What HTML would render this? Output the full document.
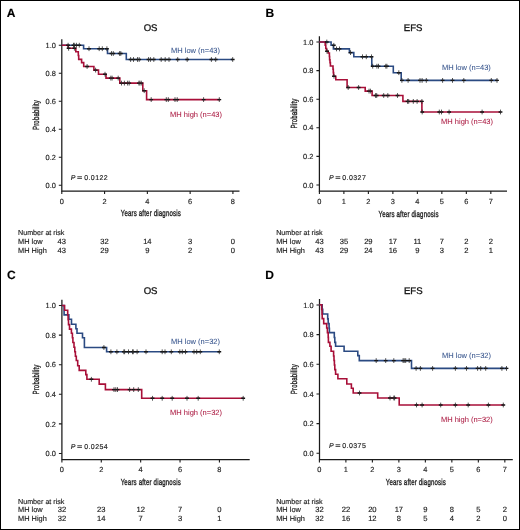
<!DOCTYPE html>
<html><head><meta charset="utf-8"><style>
html,body{margin:0;padding:0;background:#fff;}
body{width:520px;height:530px;overflow:hidden;}
svg{display:block;will-change:transform;}
text{font-family:"Liberation Sans", sans-serif;color:#222;fill:currentColor;text-rendering:geometricPrecision;stroke:currentColor;stroke-width:0.15px;}
</style></head><body>
<svg width="520" height="530" viewBox="0 0 520 530">
<rect x="0" y="0" width="520" height="530" fill="#fff"/>
<g>
<rect x="0.5" y="0.5" width="519" height="529" fill="none" stroke="#000" stroke-width="1"/>
<g stroke="#1a1a1a" stroke-width="1.25" fill="none">
<path d="M61.8 39.2V191H239.5"/>
<path d="M58.8 185.2H61.8M58.8 157.2H61.8M58.8 129.2H61.8M58.8 101.2H61.8M58.8 73.2H61.8M58.8 45.2H61.8M61.8 191V194M104.58 191V194M147.36 191V194M190.14 191V194M232.92 191V194" stroke-width="1.1"/>
</g>
<text x="55.8" y="187.85" font-size="7.4" text-anchor="end">0.0</text>
<text x="55.8" y="159.85" font-size="7.4" text-anchor="end">0.2</text>
<text x="55.8" y="131.85" font-size="7.4" text-anchor="end">0.4</text>
<text x="55.8" y="103.85" font-size="7.4" text-anchor="end">0.6</text>
<text x="55.8" y="75.85" font-size="7.4" text-anchor="end">0.8</text>
<text x="55.8" y="47.85" font-size="7.4" text-anchor="end">1.0</text>
<text x="61.8" y="203.8" font-size="7.4" text-anchor="middle">0</text>
<text x="104.58" y="203.8" font-size="7.4" text-anchor="middle">2</text>
<text x="147.36" y="203.8" font-size="7.4" text-anchor="middle">4</text>
<text x="190.14" y="203.8" font-size="7.4" text-anchor="middle">6</text>
<text x="232.92" y="203.8" font-size="7.4" text-anchor="middle">8</text>
<text transform="translate(150.85 216.4) scale(0.7 1)" font-size="8.7" text-anchor="middle" style="stroke-width:0.35px;letter-spacing:0.25px">Years after diagnosis</text>
<text transform="translate(39.4 115) rotate(-90) scale(0.68 1)" font-size="8.9" text-anchor="middle" style="stroke-width:0.35px;letter-spacing:0.25px">Probability</text>
<text x="150.6" y="30.9" font-size="9.6" text-anchor="middle" style="stroke-width:0.3px;color:#111">OS</text>
<text x="6.7" y="16.5" font-size="12.0" font-weight="bold" style="color:#000">A</text>
<text x="70.8" y="180.1" font-size="7.0" font-style="italic">P</text>
<text font-size="7.0" transform="translate(77.1 180.1) scale(1.3 1)">=</text>
<text x="84.2" y="180.1" font-size="7.0" style="letter-spacing:0.42px">0.0122</text>
<text x="171" y="53" font-size="7.5" style="color:#36548c;stroke-width:0.05px">MH low (n=43)</text>
<text x="170.1" y="116.8" font-size="7.5" style="color:#ab1a42;stroke-width:0.05px">MH high (n=43)</text>
<text x="18" y="235" font-size="7.15">Number at risk</text>
<text x="18" y="243.7" font-size="7.4">MH low</text>
<text x="18" y="252.6" font-size="7.4">MH High</text>
<text x="61.8" y="243.8" font-size="7.6" text-anchor="middle">43</text>
<text x="61.8" y="252.7" font-size="7.6" text-anchor="middle">43</text>
<text x="104.58" y="243.8" font-size="7.6" text-anchor="middle">32</text>
<text x="104.58" y="252.7" font-size="7.6" text-anchor="middle">29</text>
<text x="147.36" y="243.8" font-size="7.6" text-anchor="middle">14</text>
<text x="147.36" y="252.7" font-size="7.6" text-anchor="middle">9</text>
<text x="190.14" y="243.8" font-size="7.6" text-anchor="middle">3</text>
<text x="190.14" y="252.7" font-size="7.6" text-anchor="middle">2</text>
<text x="232.92" y="243.8" font-size="7.6" text-anchor="middle">0</text>
<text x="232.92" y="252.7" font-size="7.6" text-anchor="middle">0</text>
<path d="M61.8 45.2H83.6V48.7H107.5V53.5H126.3V59.5H233" fill="none" stroke="#2b4a82" stroke-width="1.6" stroke-linejoin="miter" stroke-linecap="butt"/>
<path d="M61.8 45.2H68.1V48.3H75.8V51.8H78.3V55.5H78.7V59.4H81.6V62.6H83.7V66.5H93.9V70.1H98.5V74.2H106V78.1H119.8V83.1H142.8V90.7H146.6V99.6H220.2" fill="none" stroke="#a80f38" stroke-width="1.6" stroke-linejoin="miter" stroke-linecap="butt"/>
<path d="M66.2 45.2H70M71.6 45.2H75.4M72.4 45.2H76.2M74.5 45.2H78.3M77.4 45.2H81.2M87.1 48.7H90.9M97.3 48.7H101.1M100.4 48.7H104.2M105 48.7H108.8M109.6 53.5H113.4M111.4 53.5H115.2M117.7 53.5H121.5M118.9 53.5H122.7M128.7 59.5H132.5M131.6 59.5H135.4M135.6 59.5H139.4M137.3 59.5H141.1M146.6 59.5H150.4M148.5 59.5H152.3M151.9 59.5H155.7M159.3 59.5H163.1M163.3 59.5H167.1M167.1 59.5H170.9M175.8 59.5H179.6M185.3 59.5H189.1M209.5 59.5H213.3M213.8 59.5H217.6M230.8 59.5H234.6" stroke="#111" stroke-width="1.4" fill="none"/>
<path d="M68.1 42.8V47.6M73.5 42.8V47.6M74.3 42.8V47.6M76.4 42.8V47.6M79.3 42.8V47.6M89 46.3V51.1M99.2 46.3V51.1M102.3 46.3V51.1M106.9 46.3V51.1M111.5 51.1V55.9M113.3 51.1V55.9M119.6 51.1V55.9M120.8 51.1V55.9M130.6 57.1V61.9M133.5 57.1V61.9M137.5 57.1V61.9M139.2 57.1V61.9M148.5 57.1V61.9M150.4 57.1V61.9M153.8 57.1V61.9M161.2 57.1V61.9M165.2 57.1V61.9M169 57.1V61.9M177.7 57.1V61.9M187.2 57.1V61.9M211.4 57.1V61.9M215.7 57.1V61.9M232.7 57.1V61.9" stroke="#2a2a2a" stroke-width="0.8" fill="none"/>
<path d="M66.7 48.3H70.5M72.5 48.3H76.3M85.2 66.5H89M93.7 70.1H97.5M103.1 74.2H106.9M108.9 78.1H112.7M110.2 78.1H114M116.3 78.1H120.1M119.6 83.1H123.4M122.5 83.1H126.3M125.7 83.1H129.5M127.3 83.1H131.1M137 83.1H140.8M138 83.1H141.8M139.4 83.1H143.2M142.3 90.7H146.1M149.3 99.6H153.1M164.4 99.6H168.2M166.4 99.6H170.2M173.1 99.6H176.9M175.3 99.6H179.1M201.7 99.6H205.5M217.4 99.6H221.2" stroke="#111" stroke-width="1.4" fill="none"/>
<path d="M68.6 45.9V50.7M74.4 45.9V50.7M87.1 64.1V68.9M95.6 67.7V72.5M105 71.8V76.6M110.8 75.7V80.5M112.1 75.7V80.5M118.2 75.7V80.5M121.5 80.7V85.5M124.4 80.7V85.5M127.6 80.7V85.5M129.2 80.7V85.5M138.9 80.7V85.5M139.9 80.7V85.5M141.3 80.7V85.5M144.2 88.3V93.1M151.2 97.2V102M166.3 97.2V102M168.3 97.2V102M175 97.2V102M177.2 97.2V102M203.6 97.2V102M219.3 97.2V102" stroke="#2a2a2a" stroke-width="0.8" fill="none"/>
<g stroke="#1a1a1a" stroke-width="1.25" fill="none">
<path d="M319.4 36.3V191H507"/>
<path d="M316.4 185H319.4M316.4 156.4H319.4M316.4 127.8H319.4M316.4 99.2H319.4M316.4 70.6H319.4M316.4 42H319.4M319.4 191V194M343.89 191V194M368.38 191V194M392.87 191V194M417.36 191V194M441.85 191V194M466.34 191V194M490.83 191V194" stroke-width="1.1"/>
</g>
<text x="313.4" y="187.65" font-size="7.4" text-anchor="end">0.0</text>
<text x="313.4" y="159.05" font-size="7.4" text-anchor="end">0.2</text>
<text x="313.4" y="130.45" font-size="7.4" text-anchor="end">0.4</text>
<text x="313.4" y="101.85" font-size="7.4" text-anchor="end">0.6</text>
<text x="313.4" y="73.25" font-size="7.4" text-anchor="end">0.8</text>
<text x="313.4" y="44.65" font-size="7.4" text-anchor="end">1.0</text>
<text x="319.4" y="203.8" font-size="7.4" text-anchor="middle">0</text>
<text x="343.89" y="203.8" font-size="7.4" text-anchor="middle">1</text>
<text x="368.38" y="203.8" font-size="7.4" text-anchor="middle">2</text>
<text x="392.87" y="203.8" font-size="7.4" text-anchor="middle">3</text>
<text x="417.36" y="203.8" font-size="7.4" text-anchor="middle">4</text>
<text x="441.85" y="203.8" font-size="7.4" text-anchor="middle">5</text>
<text x="466.34" y="203.8" font-size="7.4" text-anchor="middle">6</text>
<text x="490.83" y="203.8" font-size="7.4" text-anchor="middle">7</text>
<text transform="translate(408.6 216.8) scale(0.7 1)" font-size="8.7" text-anchor="middle" style="stroke-width:0.35px;letter-spacing:0.25px">Years after diagnosis</text>
<text transform="translate(297.2 113.6) rotate(-90) scale(0.68 1)" font-size="8.9" text-anchor="middle" style="stroke-width:0.35px;letter-spacing:0.25px">Probability</text>
<text x="413.2" y="30.9" font-size="9.6" text-anchor="middle" style="stroke-width:0.3px;color:#111">EFS</text>
<text x="265.4" y="16.5" font-size="12.0" font-weight="bold" style="color:#000">B</text>
<text x="328.9" y="180.1" font-size="7.0" font-style="italic">P</text>
<text font-size="7.0" transform="translate(335.2 180.1) scale(1.3 1)">=</text>
<text x="342.3" y="180.1" font-size="7.0" style="letter-spacing:0.42px">0.0327</text>
<text x="441.9" y="70.25" font-size="7.5" style="color:#36548c;stroke-width:0.05px">MH low (n=43)</text>
<text x="441.1" y="123.9" font-size="7.5" style="color:#ab1a42;stroke-width:0.05px">MH high (n=43)</text>
<text x="276.2" y="235.1" font-size="7.15">Number at risk</text>
<text x="276.2" y="243.8" font-size="7.4">MH low</text>
<text x="276.2" y="252.7" font-size="7.4">MH High</text>
<text x="319.4" y="243.9" font-size="7.6" text-anchor="middle">43</text>
<text x="319.4" y="252.8" font-size="7.6" text-anchor="middle">43</text>
<text x="343.89" y="243.9" font-size="7.6" text-anchor="middle">35</text>
<text x="343.89" y="252.8" font-size="7.6" text-anchor="middle">29</text>
<text x="368.38" y="243.9" font-size="7.6" text-anchor="middle">29</text>
<text x="368.38" y="252.8" font-size="7.6" text-anchor="middle">24</text>
<text x="392.87" y="243.9" font-size="7.6" text-anchor="middle">17</text>
<text x="392.87" y="252.8" font-size="7.6" text-anchor="middle">16</text>
<text x="417.36" y="243.9" font-size="7.6" text-anchor="middle">11</text>
<text x="417.36" y="252.8" font-size="7.6" text-anchor="middle">9</text>
<text x="441.85" y="243.9" font-size="7.6" text-anchor="middle">7</text>
<text x="441.85" y="252.8" font-size="7.6" text-anchor="middle">3</text>
<text x="466.34" y="243.9" font-size="7.6" text-anchor="middle">2</text>
<text x="466.34" y="252.8" font-size="7.6" text-anchor="middle">2</text>
<text x="490.83" y="243.9" font-size="7.6" text-anchor="middle">2</text>
<text x="490.83" y="252.8" font-size="7.6" text-anchor="middle">1</text>
<path d="M319.4 42H331.1V45.3H333.4V48.9H349.4V52.6H353.8V56.8H371.8V66.2H393.3V72.7H401.2V80.4H497.6" fill="none" stroke="#2b4a82" stroke-width="1.6" stroke-linejoin="miter" stroke-linecap="butt"/>
<path d="M319.4 42H325.2V45.2H325.8V48.5H326.6V51.3H328.2V53H329.4V56.5H329.6V59.8H330V62.6H330.4V66H333V69.3H333.3V72.6H333.6V76.3H335.8V79.8H347.1V87.5H365.2V91.1H372.1V95.5H402.9V101.4H421.9V112H501" fill="none" stroke="#a80f38" stroke-width="1.6" stroke-linejoin="miter" stroke-linecap="butt"/>
<path d="M324.9 42H328.7M331.9 45.3H335.7M334.6 48.9H338.4M337.6 48.9H341.4M348.6 52.6H352.4M360.6 56.8H364.4M364.4 56.8H368.2M369.6 56.8H373.4M370.8 66.2H374.6M375 66.2H378.8M376.6 66.2H380.4M383.9 66.2H387.7M385 66.2H388.8M396.9 72.7H400.7M400 80.4H403.8M406.2 80.4H410M418.1 80.4H421.9M420.2 80.4H424M424.4 80.4H428.2M440.7 80.4H444.5M450.6 80.4H454.4M461.9 80.4H465.7M489.4 80.4H493.2M495.1 80.4H498.9" stroke="#111" stroke-width="1.4" fill="none"/>
<path d="M326.8 39.6V44.4M333.8 42.9V47.7M336.5 46.5V51.3M339.5 46.5V51.3M350.5 50.2V55M362.5 54.4V59.2M366.3 54.4V59.2M371.5 54.4V59.2M372.7 63.8V68.6M376.9 63.8V68.6M378.5 63.8V68.6M385.8 63.8V68.6M386.9 63.8V68.6M398.8 70.3V75.1M401.9 78V82.8M408.1 78V82.8M420 78V82.8M422.1 78V82.8M426.3 78V82.8M442.6 78V82.8M452.5 78V82.8M463.8 78V82.8M491.3 78V82.8M497 78V82.8" stroke="#2a2a2a" stroke-width="0.8" fill="none"/>
<path d="M325.1 51.3H328.9M332.1 76.3H335.9M346.3 87.5H350.1M356.7 87.5H360.5M367.1 91.1H370.9M368.5 91.1H372.3M373.7 95.5H377.5M374.8 95.5H378.6M381.8 95.5H385.6M385.9 95.5H389.7M395.6 95.5H399.4M405.6 101.4H409.4M406.8 101.4H410.6M411.4 101.4H415.2M415.2 101.4H419M420 101.4H423.8M420.3 112H424.1M437.4 112H441.2M439.6 112H443.4M447.2 112H451M480.2 112H484M498.6 112H502.4" stroke="#111" stroke-width="1.4" fill="none"/>
<path d="M327 48.9V53.7M334 73.9V78.7M348.2 85.1V89.9M358.6 85.1V89.9M369 88.7V93.5M370.4 88.7V93.5M375.6 93.1V97.9M376.7 93.1V97.9M383.7 93.1V97.9M387.8 93.1V97.9M397.5 93.1V97.9M407.5 99V103.8M408.7 99V103.8M413.3 99V103.8M417.1 99V103.8M421.9 99V103.8M422.2 109.6V114.4M439.3 109.6V114.4M441.5 109.6V114.4M449.1 109.6V114.4M482.1 109.6V114.4M500.5 109.6V114.4" stroke="#2a2a2a" stroke-width="0.8" fill="none"/>
<g stroke="#1a1a1a" stroke-width="1.25" fill="none">
<path d="M61.9 299.8V459.6H249.7"/>
<path d="M58.9 453.5H61.9M58.9 423.9H61.9M58.9 394.3H61.9M58.9 364.7H61.9M58.9 335.1H61.9M58.9 305.5H61.9M61.9 459.6V462.6M101.28 459.6V462.6M140.66 459.6V462.6M180.04 459.6V462.6M219.42 459.6V462.6" stroke-width="1.1"/>
</g>
<text x="55.9" y="456.15" font-size="7.4" text-anchor="end">0.0</text>
<text x="55.9" y="426.55" font-size="7.4" text-anchor="end">0.2</text>
<text x="55.9" y="396.95" font-size="7.4" text-anchor="end">0.4</text>
<text x="55.9" y="367.35" font-size="7.4" text-anchor="end">0.6</text>
<text x="55.9" y="337.75" font-size="7.4" text-anchor="end">0.8</text>
<text x="55.9" y="308.15" font-size="7.4" text-anchor="end">1.0</text>
<text x="61.9" y="472.4" font-size="7.4" text-anchor="middle">0</text>
<text x="101.28" y="472.4" font-size="7.4" text-anchor="middle">2</text>
<text x="140.66" y="472.4" font-size="7.4" text-anchor="middle">4</text>
<text x="180.04" y="472.4" font-size="7.4" text-anchor="middle">6</text>
<text x="219.42" y="472.4" font-size="7.4" text-anchor="middle">8</text>
<text transform="translate(150.75 485.3) scale(0.7 1)" font-size="8.7" text-anchor="middle" style="stroke-width:0.35px;letter-spacing:0.25px">Years after diagnosis</text>
<text transform="translate(39.4 379.5) rotate(-90) scale(0.68 1)" font-size="8.9" text-anchor="middle" style="stroke-width:0.35px;letter-spacing:0.25px">Probability</text>
<text x="150.6" y="293.7" font-size="9.6" text-anchor="middle" style="stroke-width:0.3px;color:#111">OS</text>
<text x="7.1" y="279.3" font-size="12.0" font-weight="bold" style="color:#000">C</text>
<text x="70.8" y="448.8" font-size="7.0" font-style="italic">P</text>
<text font-size="7.0" transform="translate(77.1 448.8) scale(1.3 1)">=</text>
<text x="84.2" y="448.8" font-size="7.0" style="letter-spacing:0.42px">0.0254</text>
<text x="171" y="344" font-size="7.5" style="color:#36548c;stroke-width:0.05px">MH low (n=32)</text>
<text x="170.1" y="414.8" font-size="7.5" style="color:#ab1a42;stroke-width:0.05px">MH high (n=32)</text>
<text x="18" y="503.5" font-size="7.15">Number at risk</text>
<text x="18" y="512.2" font-size="7.4">MH low</text>
<text x="18" y="521.1" font-size="7.4">MH High</text>
<text x="61.9" y="512.3" font-size="7.6" text-anchor="middle">32</text>
<text x="61.9" y="521.2" font-size="7.6" text-anchor="middle">32</text>
<text x="101.28" y="512.3" font-size="7.6" text-anchor="middle">23</text>
<text x="101.28" y="521.2" font-size="7.6" text-anchor="middle">14</text>
<text x="140.66" y="512.3" font-size="7.6" text-anchor="middle">12</text>
<text x="140.66" y="521.2" font-size="7.6" text-anchor="middle">7</text>
<text x="180.04" y="512.3" font-size="7.6" text-anchor="middle">7</text>
<text x="180.04" y="521.2" font-size="7.6" text-anchor="middle">3</text>
<text x="219.42" y="512.3" font-size="7.6" text-anchor="middle">0</text>
<text x="219.42" y="521.2" font-size="7.6" text-anchor="middle">1</text>
<path d="M61.9 305.5H64.1V314.9H68.9V319.3H71.5V324.2H75.9V328.7H77V333.2H82.5V337.7H84.4V347.5H106.6V351.8H220" fill="none" stroke="#2b4a82" stroke-width="1.6" stroke-linejoin="miter" stroke-linecap="butt"/>
<path d="M61.9 305.5H64.6V310.3H67.7V315H68.1V319.7H68.5V324.6H69.5V329.1H71.4V333.3H72.4V337.8H72.9V342.5H74V347.3H74.8V351.8H75.4V356.3H76.3V360.5H77.7V365.7H79.2V370.4H85.8V374.6H86.9V379.3H99.2V384.1H105.4V389.6H141.7V398.3H243.5" fill="none" stroke="#a80f38" stroke-width="1.6" stroke-linejoin="miter" stroke-linecap="butt"/>
<path d="M102 347.5H105.8M109 351.8H112.8M115 351.8H118.8M121.9 351.8H125.7M122.7 351.8H126.5M126.6 351.8H130.4M130.6 351.8H134.4M131.4 351.8H135.2M135.2 351.8H139M144.1 351.8H147.9M160.3 351.8H164.1M163.1 351.8H166.9M169.4 351.8H173.2M177.9 351.8H181.7M180.4 351.8H184.2M183.6 351.8H187.4M192.1 351.8H195.9M194.8 351.8H198.6M198.4 351.8H202.2M217.4 351.8H221.2" stroke="#111" stroke-width="1.4" fill="none"/>
<path d="M103.9 345.1V349.9M110.9 349.4V354.2M116.9 349.4V354.2M123.8 349.4V354.2M124.6 349.4V354.2M128.5 349.4V354.2M132.5 349.4V354.2M133.3 349.4V354.2M137.1 349.4V354.2M146 349.4V354.2M162.2 349.4V354.2M165 349.4V354.2M171.3 349.4V354.2M179.8 349.4V354.2M182.3 349.4V354.2M185.5 349.4V354.2M194 349.4V354.2M196.7 349.4V354.2M200.3 349.4V354.2M219.3 349.4V354.2" stroke="#2a2a2a" stroke-width="0.8" fill="none"/>
<path d="M89.5 379.3H93.3M112.1 389.6H115.9M113.9 389.6H117.7M115.6 389.6H119.4M127.7 389.6H131.5M131.8 389.6H135.6M136.4 389.6H140.2M150.6 398.3H154.4M160.3 398.3H164.1M170.3 398.3H174.1M185.1 398.3H188.9M196.3 398.3H200.1M241.3 398.3H245.1" stroke="#111" stroke-width="1.4" fill="none"/>
<path d="M91.4 376.9V381.7M114 387.2V392M115.8 387.2V392M117.5 387.2V392M129.6 387.2V392M133.7 387.2V392M138.3 387.2V392M152.5 395.9V400.7M162.2 395.9V400.7M172.2 395.9V400.7M187 395.9V400.7M198.2 395.9V400.7M243.2 395.9V400.7" stroke="#2a2a2a" stroke-width="0.8" fill="none"/>
<g stroke="#1a1a1a" stroke-width="1.25" fill="none">
<path d="M319.5 299.1V459.6H512.8"/>
<path d="M316.5 453.3H319.5M316.5 423.64H319.5M316.5 393.98H319.5M316.5 364.32H319.5M316.5 334.66H319.5M316.5 305H319.5M319.4 459.6V462.6M345.89 459.6V462.6M372.38 459.6V462.6M398.87 459.6V462.6M425.36 459.6V462.6M451.85 459.6V462.6M478.34 459.6V462.6M504.83 459.6V462.6" stroke-width="1.1"/>
</g>
<text x="313.5" y="455.95" font-size="7.4" text-anchor="end">0.0</text>
<text x="313.5" y="426.29" font-size="7.4" text-anchor="end">0.2</text>
<text x="313.5" y="396.63" font-size="7.4" text-anchor="end">0.4</text>
<text x="313.5" y="366.97" font-size="7.4" text-anchor="end">0.6</text>
<text x="313.5" y="337.31" font-size="7.4" text-anchor="end">0.8</text>
<text x="313.5" y="307.65" font-size="7.4" text-anchor="end">1.0</text>
<text x="319.4" y="472.4" font-size="7.4" text-anchor="middle">0</text>
<text x="345.89" y="472.4" font-size="7.4" text-anchor="middle">1</text>
<text x="372.38" y="472.4" font-size="7.4" text-anchor="middle">2</text>
<text x="398.87" y="472.4" font-size="7.4" text-anchor="middle">3</text>
<text x="425.36" y="472.4" font-size="7.4" text-anchor="middle">4</text>
<text x="451.85" y="472.4" font-size="7.4" text-anchor="middle">5</text>
<text x="478.34" y="472.4" font-size="7.4" text-anchor="middle">6</text>
<text x="504.83" y="472.4" font-size="7.4" text-anchor="middle">7</text>
<text transform="translate(415.9 485.3) scale(0.7 1)" font-size="8.7" text-anchor="middle" style="stroke-width:0.35px;letter-spacing:0.25px">Years after diagnosis</text>
<text transform="translate(297.2 379.2) rotate(-90) scale(0.68 1)" font-size="8.9" text-anchor="middle" style="stroke-width:0.35px;letter-spacing:0.25px">Probability</text>
<text x="413.3" y="293.5" font-size="9.6" text-anchor="middle" style="stroke-width:0.3px;color:#111">EFS</text>
<text x="265.2" y="278.7" font-size="12.0" font-weight="bold" style="color:#000">D</text>
<text x="328.9" y="448.4" font-size="7.0" font-style="italic">P</text>
<text font-size="7.0" transform="translate(335.2 448.4) scale(1.3 1)">=</text>
<text x="342.3" y="448.4" font-size="7.0" style="letter-spacing:0.42px">0.0375</text>
<text x="442" y="357.6" font-size="7.5" style="color:#36548c;stroke-width:0.05px">MH low (n=32)</text>
<text x="440.9" y="421.8" font-size="7.5" style="color:#ab1a42;stroke-width:0.05px">MH high (n=32)</text>
<text x="276.2" y="503.5" font-size="7.15">Number at risk</text>
<text x="276.2" y="512.2" font-size="7.4">MH low</text>
<text x="276.2" y="521.1" font-size="7.4">MH High</text>
<text x="319.4" y="512.3" font-size="7.6" text-anchor="middle">32</text>
<text x="319.4" y="521.2" font-size="7.6" text-anchor="middle">32</text>
<text x="345.89" y="512.3" font-size="7.6" text-anchor="middle">22</text>
<text x="345.89" y="521.2" font-size="7.6" text-anchor="middle">16</text>
<text x="372.38" y="512.3" font-size="7.6" text-anchor="middle">20</text>
<text x="372.38" y="521.2" font-size="7.6" text-anchor="middle">12</text>
<text x="398.87" y="512.3" font-size="7.6" text-anchor="middle">17</text>
<text x="398.87" y="521.2" font-size="7.6" text-anchor="middle">8</text>
<text x="425.36" y="512.3" font-size="7.6" text-anchor="middle">9</text>
<text x="425.36" y="521.2" font-size="7.6" text-anchor="middle">5</text>
<text x="451.85" y="512.3" font-size="7.6" text-anchor="middle">8</text>
<text x="451.85" y="521.2" font-size="7.6" text-anchor="middle">4</text>
<text x="478.34" y="512.3" font-size="7.6" text-anchor="middle">5</text>
<text x="478.34" y="521.2" font-size="7.6" text-anchor="middle">2</text>
<text x="504.83" y="512.3" font-size="7.6" text-anchor="middle">2</text>
<text x="504.83" y="521.2" font-size="7.6" text-anchor="middle">0</text>
<path d="M319.5 304.7H322.2V309.4H322.7V314H327.7V318.9H328.2V323.6H329.1V328.2H329.4V332.6H334.3V337.5H334.8V342.4H335.6V346.3H344.1V351.2H357.8V355.6H359.3V360.6H411.5V368.4H507.3" fill="none" stroke="#2b4a82" stroke-width="1.6" stroke-linejoin="miter" stroke-linecap="butt"/>
<path d="M319.5 304.7H321.7V309.5H322V314.2H322.2V318.6H323.7V323.6H326.7V328H327.4V332.6H328.2V337.4H328.4V342.4H329.9V346.3H331.1V351.2H333.6V356H334V360.5H334.4V365H334.8V369.6H335.6V374.2H337.9V378.8H346.8V384H351.4V388.3H353.2V393H377.7V398H399.2V405H503.9" fill="none" stroke="#a80f38" stroke-width="1.6" stroke-linejoin="miter" stroke-linecap="butt"/>
<path d="M374.3 360.6H378.1M383.8 360.6H387.6M391.9 360.6H395.7M401.2 360.6H405M402.3 360.6H406.1M403.8 360.6H407.6M407.3 360.6H411.1M414.2 368.4H418M418.5 368.4H422.3M430.7 368.4H434.5M453.5 368.4H457.3M464.6 368.4H468.4M475.7 368.4H479.5M478.8 368.4H482.6M483.8 368.4H487.6M500 368.4H503.8M504.6 368.4H508.4" stroke="#111" stroke-width="1.4" fill="none"/>
<path d="M376.2 358.2V363M385.7 358.2V363M393.8 358.2V363M403.1 358.2V363M404.2 358.2V363M405.7 358.2V363M409.2 358.2V363M416.1 366V370.8M420.4 366V370.8M432.6 366V370.8M455.4 366V370.8M466.5 366V370.8M477.6 366V370.8M480.7 366V370.8M485.7 366V370.8M501.9 366V370.8M506.5 366V370.8" stroke="#2a2a2a" stroke-width="0.8" fill="none"/>
<path d="M357.6 393H361.4M388.1 398H391.9M391.9 398H395.7M392.7 398H396.5M414.6 405H418.4M420.2 405H424M438.8 405H442.6M453.5 405H457.3M466.3 405H470.1M486.5 405H490.3M501.4 405H505.2" stroke="#111" stroke-width="1.4" fill="none"/>
<path d="M359.5 390.6V395.4M390 395.6V400.4M393.8 395.6V400.4M394.6 395.6V400.4M416.5 402.6V407.4M422.1 402.6V407.4M440.7 402.6V407.4M455.4 402.6V407.4M468.2 402.6V407.4M488.4 402.6V407.4M503.3 402.6V407.4" stroke="#2a2a2a" stroke-width="0.8" fill="none"/>
</g>
</svg></body></html>
